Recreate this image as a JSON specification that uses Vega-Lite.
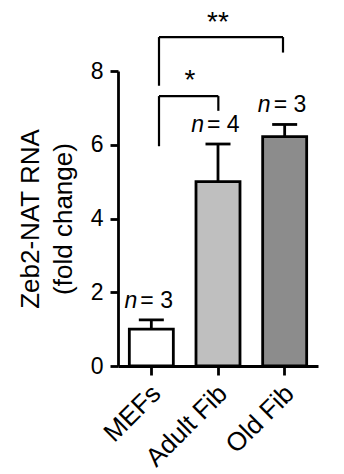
{
  "$schema": "https://vega.github.io/schema/vega-lite/v6.json",
  "width": 200,
  "height": 295,
  "autosize": {"type": "none"},
  "padding": {"left": 118, "top": 71, "right": 26, "bottom": 108},
  "background": "white",
  "config": {
    "view": {"stroke": null},
    "font": "Liberation Sans",
    "axis": {
      "domainColor": "black",
      "domainWidth": 2.8,
      "tickColor": "black",
      "tickWidth": 2.8,
      "labelColor": "black",
      "titleColor": "black",
      "grid": false,
      "labelFont": "Liberation Sans",
      "titleFont": "Liberation Sans"
    }
  },
  "datasets": {
    "bars": [
      {"group": "MEFs", "value": 1.0, "err": 1.25, "n": "= 3"},
      {"group": "Adult Fib", "value": 5.0, "err": 6.02, "n": "= 4"},
      {"group": "Old Fib", "value": 6.22, "err": 6.55, "n": "= 3"}
    ],
    "brackets": [
      {"x": 0.615, "x2": 2.475, "y": 8.92, "y2": 8.92},
      {"x": 0.615, "x2": 0.615, "y": 7.6, "y2": 8.92},
      {"x": 2.475, "x2": 2.475, "y": 8.5, "y2": 8.92},
      {"x": 0.615, "x2": 1.505, "y": 7.32, "y2": 7.32},
      {"x": 0.615, "x2": 0.615, "y": 5.96, "y2": 7.32},
      {"x": 1.505, "x2": 1.505, "y": 6.92, "y2": 7.32}
    ],
    "stars": [
      {"x": 1.5, "y": 9.29, "label": "**"},
      {"x": 1.08, "y": 7.72, "label": "*"}
    ]
  },
  "layer": [
    {
      "data": {"name": "bars"},
      "encoding": {
        "x": {
          "field": "group",
          "type": "nominal",
          "sort": ["MEFs", "Adult Fib", "Old Fib"],
          "scale": {"paddingInner": 0.34, "paddingOuter": 0.17},
          "axis": {
            "title": null,
            "labelAngle": -45,
            "labelFontSize": 26,
            "tickSize": 9,
            "labelPadding": 5,
            "labelOffset": -4
          }
        }
      },
      "layer": [
        {
          "mark": {"type": "bar", "stroke": "black", "strokeWidth": 2.8},
          "encoding": {
            "y": {
              "field": "value",
              "type": "quantitative",
              "scale": {"domain": [0, 8], "nice": false},
              "axis": {
                "values": [0, 2, 4, 6, 8],
                "title": ["Zeb2-NAT RNA", "(fold change)"],
                "titleFontSize": 26,
                "titleFontWeight": "normal",
                "titleLineHeight": 33,
                "titlePadding": 14,
                "labelFontSize": 23,
                "labelPadding": 7,
                "tickSize": 8
              }
            },
            "fill": {
              "field": "group",
              "type": "nominal",
              "scale": {"domain": ["MEFs", "Adult Fib", "Old Fib"], "range": ["#ffffff", "#bfbfbf", "#8c8c8c"]},
              "legend": null
            }
          }
        },
        {
          "mark": {"type": "rule", "stroke": "black", "strokeWidth": 2.8},
          "encoding": {
            "y": {"field": "value", "type": "quantitative", "scale": {"domain": [0, 8], "nice": false}},
            "y2": {"field": "err"}
          }
        },
        {
          "mark": {"type": "tick", "orient": "horizontal", "size": 25, "thickness": 2.8, "color": "black", "opacity": 1},
          "encoding": {
            "y": {"field": "err", "type": "quantitative", "scale": {"domain": [0, 8], "nice": false}}
          }
        },
        {
          "mark": {"type": "text", "text": "n", "fontStyle": "italic", "fontSize": 23, "align": "right", "baseline": "alphabetic", "dx": -14, "dy": -12, "color": "black"},
          "encoding": {
            "y": {"field": "err", "type": "quantitative", "scale": {"domain": [0, 8], "nice": false}}
          }
        },
        {
          "mark": {"type": "text", "fontSize": 23, "align": "left", "baseline": "alphabetic", "dx": -11, "dy": -12, "color": "black"},
          "encoding": {
            "y": {"field": "err", "type": "quantitative", "scale": {"domain": [0, 8], "nice": false}},
            "text": {"field": "n"}
          }
        }
      ]
    },
    {
      "layer": [
        {
          "data": {"name": "brackets"},
          "mark": {"type": "rule", "stroke": "black", "strokeWidth": 2.2},
          "encoding": {
            "x": {"field": "x", "type": "quantitative", "scale": {"domain": [0, 3], "nice": false, "zero": false}, "axis": null},
            "x2": {"field": "x2"},
            "y": {"field": "y", "type": "quantitative", "scale": {"domain": [0, 8], "nice": false}},
            "y2": {"field": "y2"}
          }
        },
        {
          "data": {"name": "stars"},
          "mark": {"type": "text", "fontSize": 28, "baseline": "middle", "align": "center", "color": "black"},
          "encoding": {
            "x": {"field": "x", "type": "quantitative", "scale": {"domain": [0, 3], "nice": false, "zero": false}, "axis": null},
            "y": {"field": "y", "type": "quantitative", "scale": {"domain": [0, 8], "nice": false}},
            "text": {"field": "label"}
          }
        }
      ]
    }
  ],
  "resolve": {"scale": {"x": "independent"}}
}
